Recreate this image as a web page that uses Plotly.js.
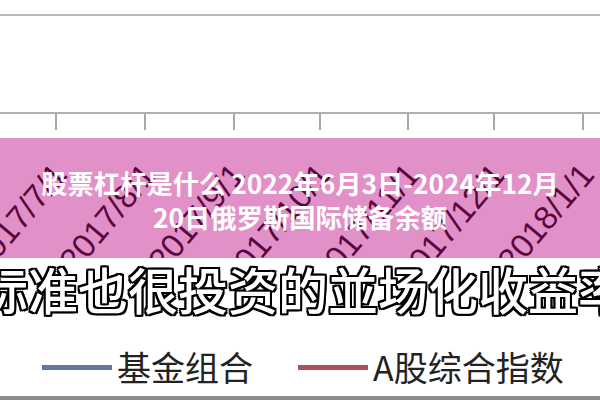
<!DOCTYPE html>
<html>
<head>
<meta charset="utf-8">
<script src="https://cdn.plot.ly/plotly-3.0.1.min.js"></script>
<style>html,body{margin:0;padding:0;background:#fff;}#chart{width:600px;height:400px;}</style>
</head>
<body>
<div id="chart"></div>
<script>
// ---- data ----
const categories = ["2017-07-01","2017-08-01","2017-09-01","2017-10-01","2017-11-01","2017-12-01","2018-01-01"];
const tickLabels = ["2017/7/1","2017/8/1","2017/9/1","2017/10/1","2017/11/1","2017/12/1","2018/1/1"];
const seriesNames = ["基金组合","A股综合指数"];
// the series lines fall outside the visible crop of the original chart: values unreadable
const fundValues  = [null,null,null,null,null,null,null];
const indexValues = [null,null,null,null,null,null,null];
const titleText = "股票杠杆是什么 2022年6月3日-2024年12月<br>20日俄罗斯国际储备余额";
const axisTitleText = "标准也很投资的並场化收益率";

const plotH = 112;           // plot area height in px
const py = Y => (plotH - Y) / plotH;   // pixel row -> paper y

const traces = [
  {type:"scatter", mode:"lines", name:seriesNames[0], x:categories, y:fundValues,
   line:{color:"#5b7ba6", width:5}, legend:"legend"},
  {type:"scatter", mode:"lines", name:seriesNames[1], x:categories, y:indexValues,
   line:{color:"#b04f5c", width:5}, legend:"legend2"}
];

const legendBase = {orientation:"h", xref:"container", yref:"container",
  xanchor:"left", y:1-368/400, yanchor:"middle", itemwidth:70,
  font:{family:"Noto Sans CJK SC", size:34, color:"#222222"},
  bgcolor:"rgba(0,0,0,0)"};

const layout = {
  width:600, height:400,
  margin:{l:0, r:0, t:0, b:288, pad:0},
  paper_bgcolor:"#ffffff", plot_bgcolor:"#ffffff",
  showlegend:true,
  title:{text:titleText, x:0.5, xanchor:"center", y:1-194/400, yanchor:"middle",
         font:{family:"Noto Sans CJK SC", size:26.3, color:"#ffffff", weight:700}},
  xaxis:{type:"date", range:["2017-06-11 11:00","2018-01-06 22:00"],
         tickvals:categories, ticktext:tickLabels, tickangle:-50,
         ticklabeloverflow:"allow",
         tickfont:{family:"Liberation Sans", size:33, color:"#000000"},
         ticks:"outside", ticklen:16, tickwidth:2, tickcolor:"#a8a8a8",
         ticklabelstandoff:12,
         showline:true, linecolor:"#b0b0b0", linewidth:2,
         showgrid:false, zeroline:false, fixedrange:true},
  yaxis:{range:[0,1.15], tickvals:[1], showticklabels:false, ticks:"",
         showgrid:true, gridcolor:"#b8b8b8", gridwidth:2,
         showline:false, zeroline:false, fixedrange:true},
  legend:Object.assign({}, legendBase, {x:37/600}),
  legend2:Object.assign({}, legendBase, {x:293/600}),
  shapes:[
    {type:"rect", xref:"paper", yref:"paper", x0:-0.05, x1:1.05, y0:py(258), y1:py(138),
     fillcolor:"rgba(192,16,135,0.46)", line:{width:0}, layer:"above"},
    {type:"rect", xref:"paper", yref:"paper", x0:-0.05, x1:1.05, y0:py(345), y1:py(258),
     fillcolor:"#ffffff", line:{width:0}, layer:"above"},
    {type:"rect", xref:"paper", yref:"paper", x0:-0.05, x1:1.05, y0:py(400), y1:py(396),
     fillcolor:"#8c8c8c", line:{width:0}, layer:"above"}
  ],
  annotations:[
    {text:axisTitleText, xref:"paper", yref:"paper", x:303/600, y:py(288),
     xanchor:"center", yanchor:"middle", showarrow:false,
     font:{family:"Noto Sans CJK SC", size:50, color:"#ffffff", weight:500,
           shadow:"-2px -2px 0 #000, 2px -2px 0 #000, -2px 2px 0 #000, 2px 2px 0 #000, 0 2px 0 #000, 0 -2px 0 #000, 2px 0 0 #000, -2px 0 0 #000"}}
  ]
};

Plotly.newPlot("chart", traces, layout, {displayModeBar:false, staticPlot:true});
</script>
</body>
</html>
